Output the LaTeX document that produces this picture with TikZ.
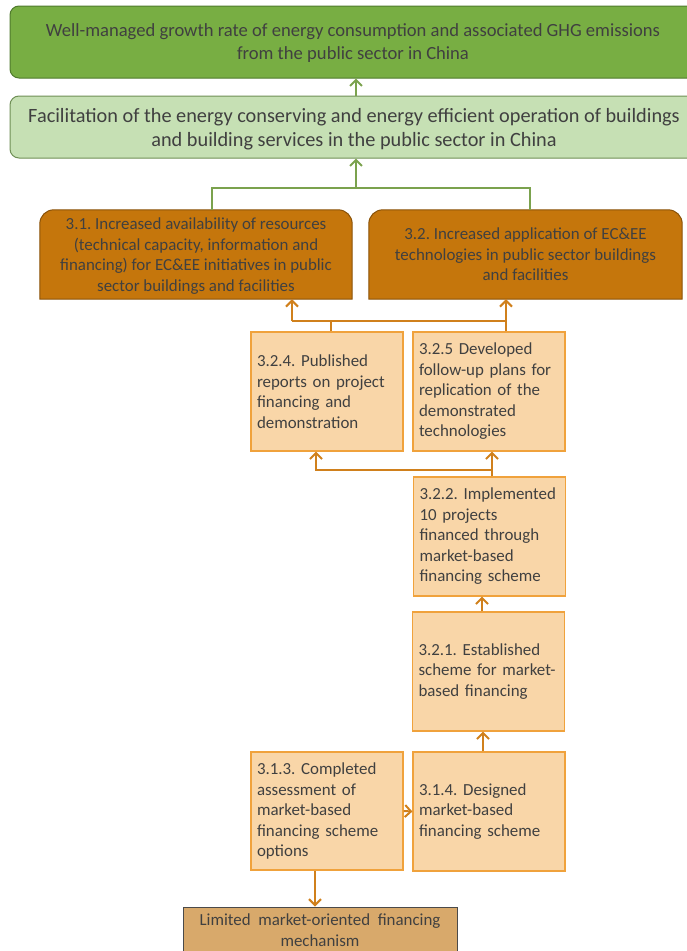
\documentclass[tikz,border=0pt]{standalone}
\usepackage{fontspec}
\setmainfont{Carlito}
\frenchspacing
\usetikzlibrary{arrows.meta,backgrounds}
\definecolor{txt}{HTML}{404040}
\definecolor{goalfill}{HTML}{78AE43}
\definecolor{goaldraw}{HTML}{4F7A2C}
\definecolor{objfill}{HTML}{C6E0B4}
\definecolor{objdraw}{HTML}{6F8F55}
\definecolor{outfill}{HTML}{C5760C}
\definecolor{outdraw}{HTML}{8A5208}
\definecolor{actfill}{HTML}{F9D6A8}
\definecolor{actdraw}{HTML}{F0A23C}
\definecolor{orarrow}{HTML}{D0801C}
\definecolor{grarrow}{HTML}{7BA24E}
\definecolor{basefill}{HTML}{D8A96B}
\definecolor{basedraw}{HTML}{4A4A4A}
\begin{document}
\begin{tikzpicture}[x=1pt,y=-1pt,
  every node/.style={text=txt,inner sep=0pt},
  goalbox/.style={draw=goaldraw,fill=goalfill,line width=1pt,rounded corners=9pt,
    minimum width=686pt,minimum height=72pt,align=center,text depth=-1pt,
    font=\fontsize{18.6}{23}\selectfont},
  objbox/.style={draw=objdraw,fill=objfill,line width=1pt,rounded corners=9pt,
    minimum width=688pt,minimum height=62pt,align=center,text depth=-1pt,
    font=\fontsize{20.3}{24}\selectfont},
  outbox/.style={minimum width=312pt,minimum height=89pt,align=center,text depth=-3pt,
    font=\fontsize{16.9}{20.5}\selectfont},
  outshape/.style={draw=outdraw,fill=outfill,line width=1pt},
  actbox/.style={draw=actdraw,fill=actfill,line width=1.2pt,
    minimum width=152pt,minimum height=119pt,text width=140pt,inner xsep=6pt,
    align=left,font=\fontsize{16.9}{20.5}\selectfont},
  basebox/.style={draw=basedraw,fill=basefill,line width=1pt,
    minimum width=274pt,minimum height=46pt,align=center,
    font=\fontsize{16.9}{20.5}\selectfont},
  orline/.style={draw=orarrow,line width=2pt},
  orarr/.style={orline,-{Straight Barb[length=6pt,width=12pt,line width=2pt]}},
  grline/.style={draw=grarrow,line width=2pt},
  grarr/.style={grline,-{Straight Barb[length=6pt,width=12pt,line width=2pt]}}
]
\useasboundingbox (0,0) rectangle (686,951);

% nodes
\node[goalbox] (goal) at (353,42) {Well-managed growth rate of energy consumption and associated GHG emissions\\from the public sector in China};
\node[objbox] (obj) at (354,127) {Facilitation of the energy conserving and energy efficient operation of buildings\\and building services in the public sector in China};
\node[outbox] (o31) at (196,254.5) {3.1. Increased availability of resources\\(technical capacity, information and\\financing) for EC\&EE initiatives in public\\sector buildings and facilities};
\node[outbox,minimum width=313pt] (o32) at (525.5,254.5) {3.2. Increased application of EC\&EE\\technologies in public sector buildings\\and facilities};
\begin{scope}[on background layer]
\path[outshape] (o31.south west) [rounded corners=14pt] -- (o31.north west) -- (o31.north east) [sharp corners] -- (o31.south east) -- cycle;
\path[outshape] (o32.south west) [rounded corners=14pt] -- (o32.north west) -- (o32.north east) [sharp corners] -- (o32.south east) -- cycle;
\end{scope}

\node[actbox] (a324) at (327,391.5) {3.2.4. Published\\reports on project\\financing and\\demonstration};
\node[actbox] (a325) at (489,391.5) {3.2.5 Developed\\follow-up plans for\\replication of the\\demonstrated\\technologies};
\node[actbox,minimum width=151pt] (a322) at (489.5,536.5) {3.2.2. Implemented\\10 projects\\financed through\\market-based\\financing scheme};
\node[actbox,minimum width=151pt] (a321) at (488.5,671.5) {3.2.1. Established\\scheme for market-\\based financing};
\node[actbox,minimum height=118pt] (a313) at (327,811) {3.1.3. Completed\\assessment of\\market-based\\financing scheme\\options};
\node[actbox] (a314) at (489,811.5) {3.1.4. Designed\\market-based\\financing scheme};
\node[basebox] (base) at (320,930) {Limited\ \ market-oriented\ \ financing\\mechanism};

% junction coordinates
\coordinate (gj) at (356,188);
\coordinate (gl) at (212,188);
\coordinate (gr) at (530,188);
\coordinate (oj) at (331,321);
\coordinate (ol) at (292,321);
\coordinate (or) at (506,321);
\coordinate (bj) at (492,470);
\coordinate (bl) at (316,470);

% green connectors
\draw[grarr] (obj.north -| gj) -- (goal.south -| gj);
\draw[grarr] (gj) -- (obj.south -| gj);
\draw[grline] (o31.north -| gl) -- (gl) -- (gr) -- (o32.north -| gr);

% orange connectors
\draw[orline] (a324.north -| oj) -- (oj);
\draw[orline] (ol) -- (or);
\draw[orarr] (ol) -- (o31.south -| ol);
\draw[orarr] (a325.north -| or) -- (o32.south -| or);
\draw[orarr] (a322.north -| bj) -- (a325.south -| bj);
\draw[orarr] (bj) -- (bl) -- (a324.south -| bl);
\draw[orarr] (a321.north -| 482,0) -- (a322.south -| 482,0);
\draw[orarr] (a314.north -| 483,0) -- (a321.south -| 483,0);
\draw[orarr] (a313.east) -- (a314.west);
\draw[orarr] (a313.south -| 315,0) -- (base.north -| 315,0);
\end{tikzpicture}
\end{document}
